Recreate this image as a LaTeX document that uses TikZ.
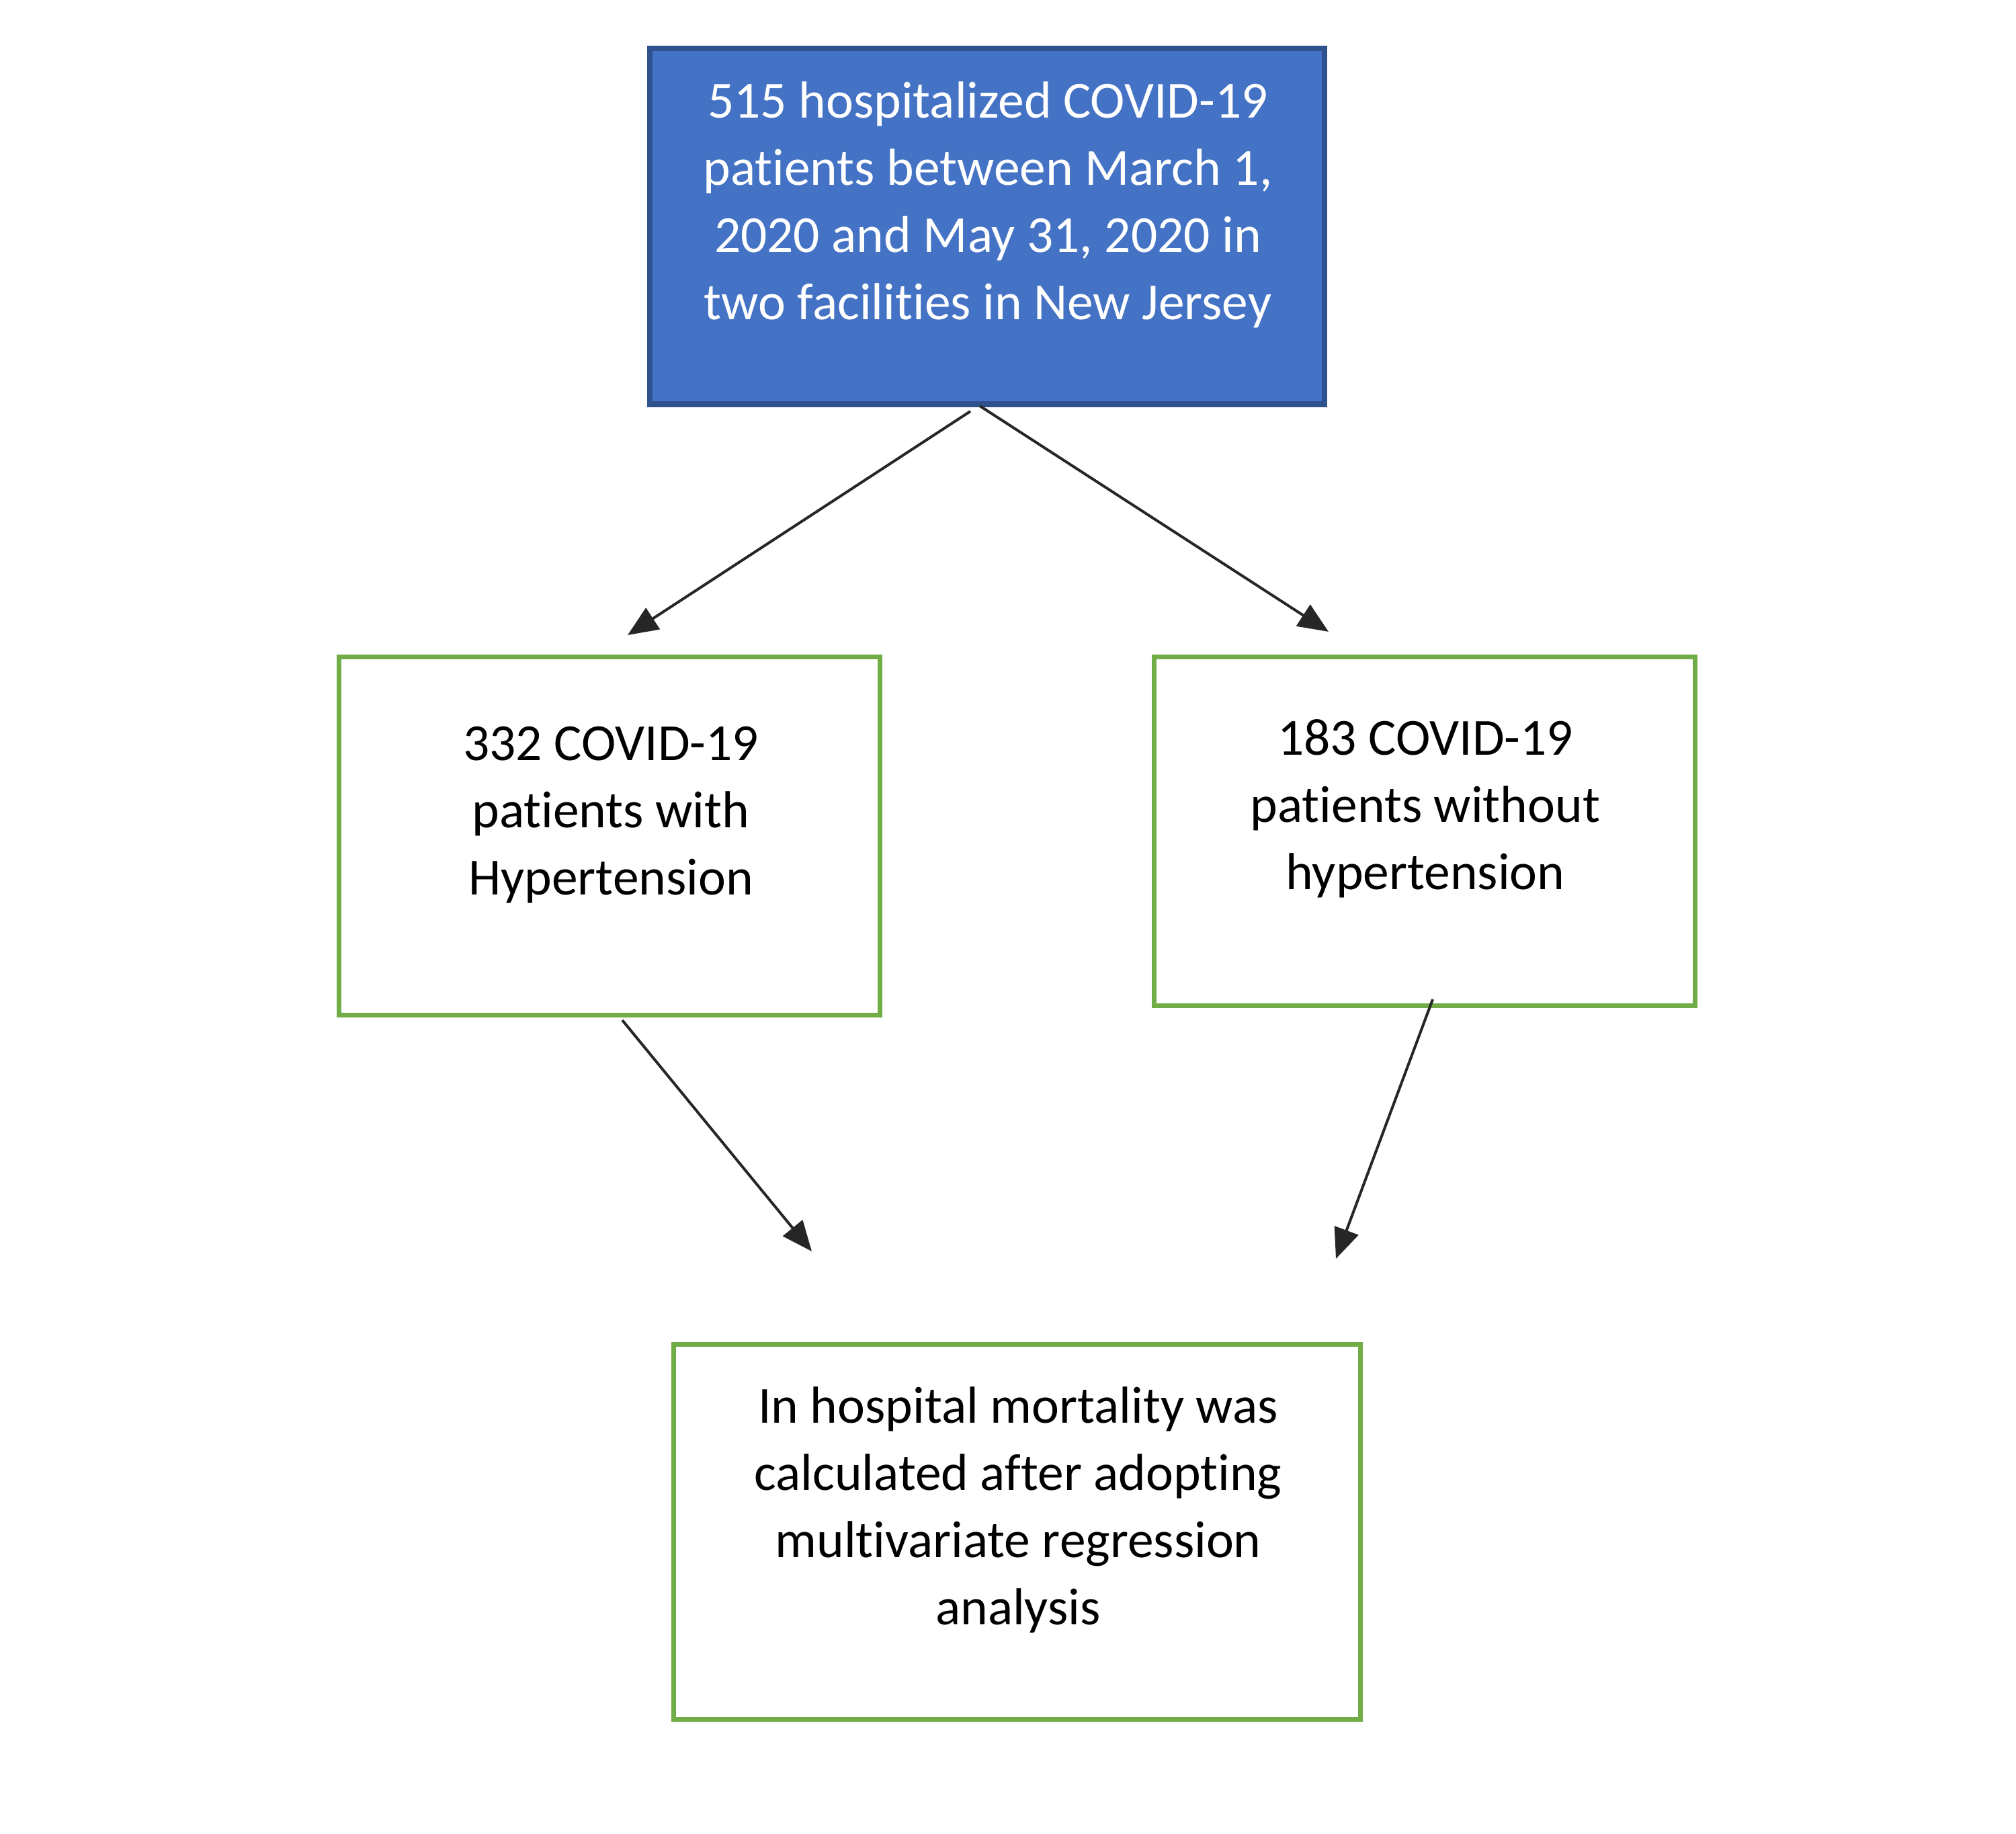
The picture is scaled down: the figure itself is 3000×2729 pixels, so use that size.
\documentclass[tikz,border=0pt]{standalone}
\usepackage{fontspec}
\setmainfont{Carlito}[Ligatures={NoCommon}]
\usetikzlibrary{arrows.meta}
\definecolor{boxblue}{HTML}{4472C4}
\definecolor{boxblueedge}{HTML}{2F528F}
\definecolor{boxgreen}{HTML}{70AD47}
\definecolor{arrowgray}{HTML}{262626}
\tikzset{
  bluebox/.style={draw=boxblueedge, fill=boxblue, line width=1.7pt, inner sep=0pt},
  greenbox/.style={draw=boxgreen, fill=white, line width=1.4pt, inner sep=0pt},
  boxtext/.style={align=center, inner sep=0pt, font=\fontsize{15.5pt}{20pt}\selectfont},
  flowarrow/.style={draw=arrowgray, line width=0.8pt, -{Triangle[length=9pt,width=7.5pt]}}
}
\begin{document}
\begin{tikzpicture}[x=0.2pt,y=-0.2pt]
\useasboundingbox[fill=white] (0,0) rectangle (3000,2729);
% boxes
\node[bluebox, minimum width=200.8pt, minimum height=105.9pt] (top) at (1469,336.75) {};
\node[greenbox, minimum width=161pt, minimum height=106.6pt] (left) at (907,1244) {};
\node[greenbox, minimum width=161pt, minimum height=103.8pt] (right) at (2120,1237) {};
\node[greenbox, minimum width=204.4pt, minimum height=111.6pt] (bottom) at (1513,2279) {};
% texts
\node[boxtext, text=white] (toptxt) at (1470,305) {515 hospitalized COVID-19\\patients between March 1,\\2020 and May 31, 2020 in\\two facilities in New Jersey};
\node[boxtext, text=black] (lefttxt) at (909,1213) {332 COVID-19\\patients with\\Hypertension};
\node[boxtext, text=black] (righttxt) at (2121,1203) {183 COVID-19\\patients without\\hypertension};
\node[boxtext, text=black] (bottomtxt) at (1515,2247) {In hospital mortality was\\calculated after adopting\\multivariate regression\\analysis};
% connector end points
\coordinate (a1s) at (1444,612);
\coordinate (a1e) at (934,945);
\coordinate (a2s) at (1458,604);
\coordinate (a2e) at (1977,940);
\coordinate (a3s) at (926,1518);
\coordinate (a3e) at (1208,1862);
\coordinate (a4s) at (2132,1487);
\coordinate (a4e) at (1988,1873);
% connectors
\draw[flowarrow] (a1s) -- (a1e);
\draw[flowarrow] (a2s) -- (a2e);
\draw[flowarrow] (a3s) -- (a3e);
\draw[flowarrow] (a4s) -- (a4e);
\end{tikzpicture}
\end{document}
